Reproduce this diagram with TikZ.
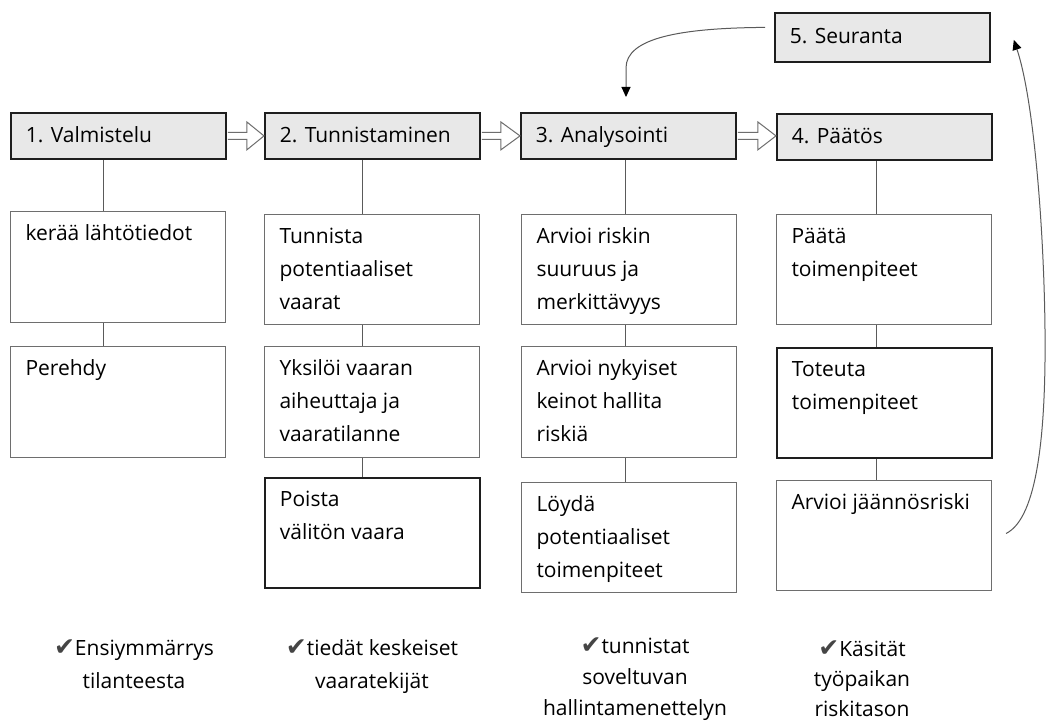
\documentclass[tikz,border=0pt]{standalone}
\usepackage{fontspec}
\setmainfont{Open Sans}
\newfontfamily\symfont{DejaVu Sans}
\usetikzlibrary{arrows.meta,calc}
\definecolor{hdrfill}{HTML}{E8E8E8}
\definecolor{edgegray}{HTML}{6E6E6E}
\definecolor{linegray}{HTML}{5A5A5A}
\definecolor{darkline}{HTML}{1E1E1E}
\definecolor{chkcol}{HTML}{454545}
\definecolor{txtcol}{HTML}{000000}
\newcommand{\boxtext}[3]{\parbox[c][#1][t]{#2}{\raggedright\rule{0pt}{29pt}#3}}
\newcommand{\chkm}{{\symfont\fontsize{25}{25}\selectfont\color{chkcol}\char"2714}}
\tikzset{
  hdr/.style={draw=darkline, line width=1.8pt, fill=hdrfill, inner xsep=15pt, inner ysep=0pt, anchor=north west, text=txtcol, font=\fontsize{21}{33}\selectfont},
  wbox/.style={draw=edgegray, line width=1pt, fill=white, inner xsep=15pt, inner ysep=0pt, anchor=north west, text=txtcol, font=\fontsize{21}{33}\selectfont},
  wboxbold/.style={wbox, draw=darkline, line width=1.8pt},
  conn/.style={draw=linegray, line width=0.9pt},
  harrow/.style={draw=edgegray, line width=1pt, fill=white, line join=miter},
  fb/.style={draw=linegray, line width=1pt, -{Triangle[length=10pt,width=9pt,color=black]}},
  outcome/.style={anchor=north, inner sep=0pt, align=center, text=txtcol}
}
\begin{document}
\begin{tikzpicture}[x=1pt,y=-1pt]
\useasboundingbox[fill=white] (0,0) rectangle (1047,722);

% header boxes
\node[hdr] (h1) at (10,112) {\parbox[c][46pt][t]{185pt}{\rule{0pt}{30pt}1. Valmistelu}};
\node[hdr] (h2) at (264,112) {\parbox[c][46pt][t]{185pt}{\rule{0pt}{30pt}2. Tunnistaminen}};
\node[hdr] (h3) at (520,112) {\parbox[c][46pt][t]{185pt}{\rule{0pt}{30pt}3. Analysointi}};
\node[hdr] (h4) at (776,113) {\parbox[c][46pt][t]{185pt}{\rule{0pt}{30pt}4. Päätös}};
\node[hdr] (s5) at (774,12) {\parbox[c][49pt][t]{185pt}{\rule{0pt}{31pt}5. Seuranta}};

% column 1
\node[wbox] (a1) at (10,211) {\boxtext{111pt}{185pt}{kerää lähtötiedot}};
\node[wbox] (b1) at (10,346) {\boxtext{111pt}{185pt}{Perehdy}};
% column 2
\node[wbox] (a2) at (264,214) {\boxtext{110pt}{185pt}{Tunnista\\potentiaaliset\\vaarat}};
\node[wbox] (b2) at (264,346) {\boxtext{111pt}{185pt}{Yksilöi vaaran\\aiheuttaja ja\\vaaratilanne}};
\node[wboxbold] (c2) at (264,477) {\boxtext{110pt}{185pt}{Poista\\välitön vaara}};
% column 3
\node[wbox] (a3) at (521,214) {\boxtext{110pt}{185pt}{Arvioi riskin\\suuruus ja\\merkittävyys}};
\node[wbox] (b3) at (521,346) {\boxtext{111pt}{185pt}{Arvioi nykyiset\\keinot hallita\\riskiä}};
\node[wbox] (c3) at (521,482) {\boxtext{110pt}{185pt}{Löydä\\potentiaaliset\\toimenpiteet}};
% column 4
\node[wbox] (a4) at (776,214) {\boxtext{110pt}{185pt}{Päätä\\toimenpiteet}};
\node[wboxbold] (b4) at (776,347) {\boxtext{110pt}{185pt}{Toteuta\\toimenpiteet}};
\node[wbox] (c4) at (776,480) {\boxtext{110pt}{185pt}{Arvioi jäännösriski}};

% vertical connectors
\coordinate (v1) at (103,0);
\coordinate (v2) at (362,0);
\coordinate (v3) at (625,0);
\coordinate (v4) at (876,0);
\draw[conn] (h1.south -| v1) -- (a1.north -| v1);
\draw[conn] (a1.south -| v1) -- (b1.north -| v1);
\draw[conn] (h2.south -| v2) -- (a2.north -| v2);
\draw[conn] (a2.south -| v2) -- (b2.north -| v2);
\draw[conn] (b2.south -| v2) -- (c2.north -| v2);
\draw[conn] (h3.south -| v3) -- (a3.north -| v3);
\draw[conn] (a3.south -| v3) -- (b3.north -| v3);
\draw[conn] (b3.south -| v3) -- (c3.north -| v3);
\draw[conn] (h4.south -| v4) -- (a4.north -| v4);
\draw[conn] (a4.south -| v4) -- (b4.north -| v4);
\draw[conn] (b4.south -| v4) -- (c4.north -| v4);

% hollow block arrows between headers
\draw[harrow] ($(h1.east)+(1,-3.5)$) -- ++(19,0) -- ++(0,-10.5) -- (h2.west) -- ($(h1.east)+(20,14)$) -- ++(0,-10.5) -- ($(h1.east)+(1,3.5)$);
\draw[harrow] ($(h2.east)+(1,-3.5)$) -- ++(19,0) -- ++(0,-10.5) -- (h3.west) -- ($(h2.east)+(20,14)$) -- ++(0,-10.5) -- ($(h2.east)+(1,3.5)$);
\draw[harrow] ($(h3.east)+(1,-3.5)$) -- ++(20,0) -- ++(0,-10.5) -- ($(h4.west)+(0,-1)$) -- ($(h3.east)+(21,14)$) -- ++(0,-10.5) -- ($(h3.east)+(1,3.5)$);

% feedback curves
\coordinate (t0) at ($(s5.west)+(-9,-10)$);
\coordinate (t1) at ($(h3.north west)+(106,-15)$);
\draw[fb] (t0) .. controls (680,28) and (626,38) .. (626,68) -- (t1);
\coordinate (r0) at ($(c4.east)+(14,-2)$);
\coordinate (r1) at ($(s5.east)+(23,2.5)$);
\draw[fb] (r0) .. controls (1038,518) and (1046,430) .. (1045,330) .. controls (1044,230) and (1034,100) .. (r1);

% outcomes
\node[outcome, font=\fontsize{21}{33}\selectfont] (o1) at (134,635) {\rule{0pt}{20pt}\chkm Ensiymmärrys\\tilanteesta};
\node[outcome, font=\fontsize{21}{33}\selectfont] (o2) at (372,635) {\rule{0pt}{20pt}\chkm tiedät keskeiset\\vaaratekijät};
\node[outcome, font=\fontsize{21}{31}\selectfont] (o3) at (635,633) {\rule{0pt}{20pt}\chkm tunnistat\\soveltuvan\\hallintamenettelyn};
\node[outcome, font=\fontsize{21}{30}\selectfont] (o4) at (862,636) {\rule{0pt}{20pt}\chkm Käsität\\työpaikan\\riskitason};
\end{tikzpicture}
\end{document}
